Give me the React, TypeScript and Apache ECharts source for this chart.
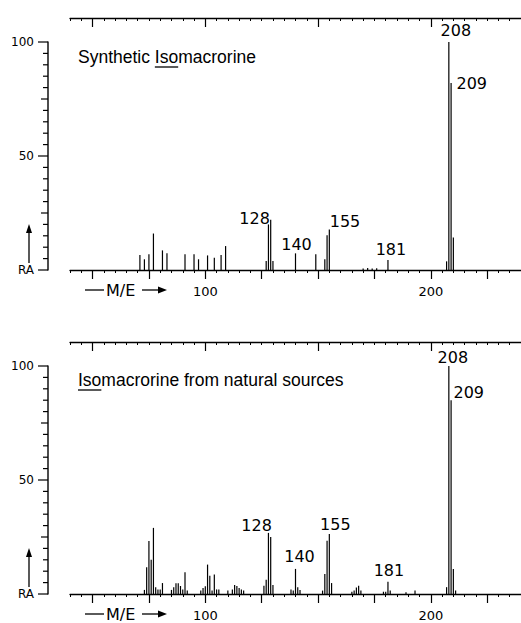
import React, { useEffect, useRef } from 'react';
import * as echarts from 'echarts';

// ---- data (m/e, relative abundance) ----
const topMz = [71, 73, 75, 77, 81, 83, 91, 95, 97, 101, 104, 107, 109, 127, 128, 129, 130, 140, 149, 153, 154, 155, 170, 172, 174, 176, 181, 207, 208, 209, 210];
const topRa = [6.6, 4.7, 6.9, 16, 8.6, 7.3, 6.9, 6.9, 4.7, 6.4, 5.4, 6.6, 10.5, 3.9, 20, 22, 3.9, 7.3, 6.9, 4.7, 15.2, 17.8, 0.7, 0.9, 0.7, 0.8, 4.4, 3.8, 100, 82, 14.3];

const bottomMz = [73, 74, 75, 76, 77, 78, 79, 80, 81, 85, 86, 87, 88, 89, 90, 91, 92, 98, 99, 100, 101, 102, 103, 104, 105, 106, 110, 112, 113, 114, 115, 116, 117, 126, 127, 128, 129, 130, 138, 139, 140, 141, 142, 152, 153, 154, 155, 156, 165, 166, 167, 168, 169, 179, 180, 181, 182, 189, 193, 207, 208, 209, 210, 211];
const bottomRa = [1.8, 11.7, 23.2, 15, 29, 3, 2, 2, 4.8, 1.8, 3, 4.7, 4.7, 3.5, 2, 9.5, 1.5, 1.5, 2.6, 3.4, 12.9, 8, 1.5, 8.5, 2, 2, 1.5, 2, 4, 3.5, 2.6, 2, 1.5, 3.6, 6.3, 26.8, 25, 4, 2, 1.5, 11, 3, 1.8, 1.5, 8.8, 23.4, 26.3, 4.8, 1, 1.5, 2.9, 3.6, 1.5, 1, 1, 5.4, 1.5, 0.8, 1.5, 3, 100, 85, 11, 1.5];

const labeledPeaks = [128, 140, 155, 181, 208, 209];
const xLabelValues = [100, 200];
const xMajorTicks = [50, 75, 100, 125, 150, 175, 200, 225];
const topMajorTicks = [50, 100, 150, 200];
const yLabelValues = [0, 50, 100];
const yMidTicks = [25, 75];
const yMinorStep = 5;
const titles = ['Synthetic Isomacrorine', 'Isomacrorine from natural sources'];
const underlinedWord = 'Iso';

// ---- label layout (style only) ----
const labelLayouts: any[] = [
  {
    128: { position: [2, -6], align: 'right', verticalAlign: 'middle' },
    140: { position: 'top', distance: 1, offset: [1, 0] },
    155: { position: [1, 0], align: 'left', verticalAlign: 'bottom' },
    181: { position: 'top', distance: 2, offset: [3, 0] },
    208: { position: 'top', distance: 4, offset: [7, 0] },
    209: { position: [6, 0], align: 'left', verticalAlign: 'middle' },
  },
  {
    128: { position: [4, -7], align: 'right', verticalAlign: 'middle' },
    140: { position: 'top', distance: 4, offset: [4, 0] },
    155: { position: 'top', distance: 2, offset: [6, 0] },
    181: { position: 'top', distance: 3, offset: [1, 0] },
    208: { position: 'top', distance: 1, offset: [4, 0] },
    209: { position: [3, -8], align: 'left', verticalAlign: 'middle' },
  },
];

const FONT = 'DejaVu Sans';
const TITLE_FONT = 'Liberation Sans';
const TITLE_SIZE = 17.5;
const Y_AXIS_X = 48;

function buildItems(mz: number[], ra: number[], layout: any) {
  return mz.map((m, i) => {
    if (labeledPeaks.indexOf(m) >= 0 && layout[m]) {
      return {
        value: [m, ra[i]],
        label: { show: true, formatter: String(m), ...layout[m] },
      };
    }
    return { value: [m, ra[i]] };
  });
}

function measure(text: string): number {
  const c = document.createElement('canvas').getContext('2d');
  if (!c) return text.length * 8;
  c.font = `${TITLE_SIZE}px "${TITLE_FONT}"`;
  return c.measureText(text).width;
}

export default function App() {
  const ref = useRef<HTMLDivElement>(null);
  useEffect(() => {
    if (!ref.current) return;
    const chart = echarts.init(ref.current, undefined, { renderer: 'svg' });
    const gridTops = [42, 366];
    const black = '#000';
    const grids: any[] = [];
    const xAxes: any[] = [];
    const yAxes: any[] = [];
    gridTops.forEach((t, gi) => {
      grids.push({ left: 70, right: 0, top: t, height: 228 });
      xAxes.push({
        type: 'value', gridIndex: gi, position: 'bottom', min: 40, max: 240, interval: 5,
        axisLine: { show: true, onZero: false, lineStyle: { color: black, width: 1.3 } },
        axisTick: { show: true, length: 3, lineStyle: { color: black } },
        axisLabel: { show: true, customValues: xLabelValues, margin: 15, color: black, fontSize: 13, fontFamily: FONT },
        splitLine: { show: false },
      });
      xAxes.push({
        type: 'value', gridIndex: gi, position: 'bottom', min: 40, max: 240,
        axisLine: { show: false, onZero: false },
        axisTick: { show: true, length: 9, customValues: xMajorTicks, lineStyle: { color: black, width: 1.2 } },
        axisLabel: { show: false },
        splitLine: { show: false },
      });
      xAxes.push({
        type: 'value', gridIndex: gi, position: 'top', offset: 24, min: 40, max: 240, interval: 5,
        axisLine: { show: true, onZero: false, lineStyle: { color: black, width: 1.3 } },
        axisTick: { show: true, inside: true, length: 3, lineStyle: { color: black } },
        axisLabel: { show: false },
        splitLine: { show: false },
      });
      xAxes.push({
        type: 'value', gridIndex: gi, position: 'top', offset: 24, min: 40, max: 240,
        axisLine: { show: false, onZero: false },
        axisTick: { show: true, inside: true, length: 9, customValues: topMajorTicks, lineStyle: { color: black, width: 1.2 } },
        axisLabel: { show: false },
        splitLine: { show: false },
      });
      yAxes.push({
        type: 'value', gridIndex: gi, position: 'left', offset: 22, min: 0, max: 100, interval: 50,
        axisLine: { show: false, onZero: false },
        axisTick: { show: false },
        axisLabel: {
          formatter: (v: number) => (v === 0 ? 'RA' : String(v)),
          margin: 14, color: black, fontSize: 12, fontFamily: FONT,
        },
        splitLine: { show: false },
      });
    });

    const datasets = [
      buildItems(topMz, topRa, labelLayouts[0]),
      buildItems(bottomMz, bottomRa, labelLayouts[1]),
    ];
    const series = datasets.map((d, gi) => ({
      type: 'bar', xAxisIndex: gi * 4, yAxisIndex: gi, barWidth: 1.2,
      itemStyle: { color: '#000' },
      label: { show: false, color: black, fontSize: 16, fontFamily: FONT },
      data: d,
    }));

    chart.setOption({
      animation: false,
      backgroundColor: '#fff',
      grid: grids,
      xAxis: xAxes,
      yAxis: yAxes,
      series,
    });

    const graphics: any[] = [];
    const titleY = [57, 380];
    const baseY = [270, 594];
    const topY = [42, 366];
    gridTops.forEach((_, gi) => {
      const y0 = baseY[gi];
      const y100 = topY[gi];
      const yPix = (v: number) => y0 + (y100 - y0) * (v / 100);
      // RA axis line and ticks (drawn as thin rects)
      graphics.push({ type: 'rect', z: 100, shape: { x: Y_AXIS_X - 0.7, y: y100 - 0.6, width: 1.4, height: y0 - y100 + 1.2 }, style: { fill: black } });
      for (let v = 0; v <= 100; v += yMinorStep) {
        const len = yLabelValues.indexOf(v) >= 0 ? 10 : yMidTicks.indexOf(v) >= 0 ? 7 : 5;
        const y = yPix(v);
        graphics.push({ type: 'rect', z: 100, shape: { x: Y_AXIS_X - len, y: y - 0.6, width: len, height: 1.2 }, style: { fill: black } });
      }
      // title
      const t = titles[gi];
      graphics.push({
        type: 'text', x: 78, y: titleY[gi],
        style: { text: t, fill: black, font: `${TITLE_SIZE}px "${TITLE_FONT}"`, textVerticalAlign: 'middle', textAlign: 'left' },
      });
      const idx = t.indexOf(underlinedWord);
      const x0 = 78 + measure(t.slice(0, idx));
      const x1 = 78 + measure(t.slice(0, idx + underlinedWord.length));
      graphics.push({
        type: 'line', shape: { x1: x0, y1: titleY[gi] + 10, x2: x1, y2: titleY[gi] + 10 },
        style: { stroke: black, lineWidth: 1.3 },
      });
      // RA arrow
      const by = y0;
      graphics.push({ type: 'line', shape: { x1: 29, y1: by - 7, x2: 29, y2: by - 42 }, style: { stroke: black, lineWidth: 1.3 } });
      graphics.push({ type: 'polygon', shape: { points: [[29, by - 46], [26, by - 37], [32, by - 37]] }, style: { fill: black } });
      // M/E label
      const my = by + 20;
      graphics.push({ type: 'line', shape: { x1: 85, y1: my, x2: 104, y2: my }, style: { stroke: black, lineWidth: 1.3 } });
      graphics.push({ type: 'text', x: 106, y: my, style: { text: 'M/E', fill: black, font: `16px "${FONT}"`, textVerticalAlign: 'middle', textAlign: 'left' } });
      graphics.push({ type: 'line', shape: { x1: 142, y1: my, x2: 162, y2: my }, style: { stroke: black, lineWidth: 1.3 } });
      graphics.push({ type: 'polygon', shape: { points: [[167, my], [158, my - 3.5], [158, my + 3.5]] }, style: { fill: black } });
    });

    chart.setOption({ graphic: graphics });
    return () => chart.dispose();
  }, []);
  return <div ref={ref} style={{ position: 'fixed', left: 0, top: 0, width: 521, height: 623 }} />;
}
